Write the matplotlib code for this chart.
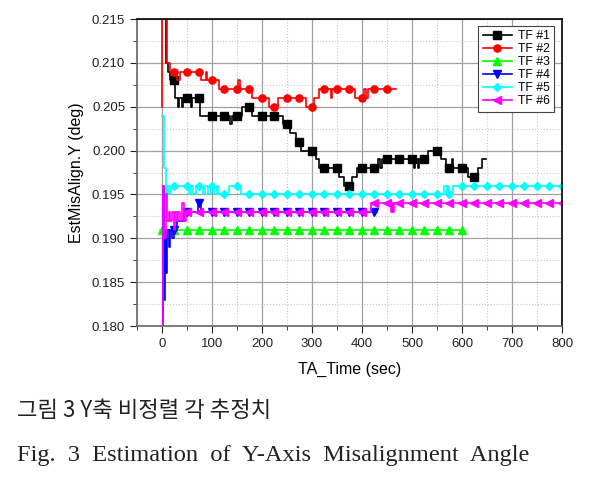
import numpy as np
import matplotlib
matplotlib.use('Agg')
from matplotlib import pyplot as plt
from matplotlib.ticker import MultipleLocator, FormatStrFormatter

plt.rcParams['font.family'] = ['Liberation Sans', 'DejaVu Sans']

# step data: times (sec) and estimated angle (deg)
t1 = [0, 9, 13, 17, 27, 33, 35, 40, 42, 50, 58, 60, 76, 136, 141, 161, 181, 243, 256, 268, 278,
      308, 314, 355, 364, 381, 391, 433, 436, 440, 505, 507, 512, 514, 532, 558, 568, 580, 582,
      612, 632, 641, 649]
v1 = [0.230, 0.210, 0.209, 0.208, 0.206, 0.205, 0.206, 0.205, 0.206, 0.206, 0.205, 0.206, 0.204,
      0.203, 0.204, 0.205, 0.204, 0.203, 0.202, 0.201, 0.200, 0.199, 0.198, 0.197, 0.196, 0.197,
      0.198, 0.199, 0.198, 0.199, 0.198, 0.199, 0.198, 0.199, 0.200, 0.199, 0.198, 0.199, 0.198,
      0.197, 0.198, 0.199, 0.199]

t2 = [0, 1, 11, 16, 30, 36, 79, 88, 91, 114, 153, 157, 181, 214, 233, 288, 305, 315, 338, 341,
      386, 405, 408, 412, 416, 468]
v2 = [0.205, 0.230, 0.210, 0.209, 0.208, 0.209, 0.208, 0.209, 0.208, 0.207, 0.208, 0.207, 0.206,
      0.205, 0.206, 0.205, 0.206, 0.207, 0.206, 0.207, 0.206, 0.207, 0.206, 0.207, 0.207, 0.207]

t3 = [-3, 600]
v3 = [0.191, 0.191]

t4 = [0, 2, 5, 7, 9, 11, 14, 17, 20, 24, 30, 45, 72, 78, 431]
v4 = [0.175, 0.196, 0.183, 0.191, 0.186, 0.191, 0.189, 0.191, 0.190, 0.191, 0.192, 0.193,
      0.194, 0.193, 0.193]

t5 = [0, 4, 8, 11, 14, 18, 21, 40, 55, 58, 62, 68, 82, 86, 92, 98, 104, 110, 112, 135, 158,
      565, 570, 572, 574, 582, 800]
v5 = [0.204, 0.198, 0.195, 0.196, 0.195, 0.196, 0.196, 0.196, 0.195, 0.196, 0.195, 0.196,
      0.195, 0.196, 0.195, 0.196, 0.195, 0.196, 0.195, 0.196, 0.195, 0.196, 0.195, 0.196,
      0.195, 0.196, 0.196]

t6 = [0, 2, 5, 8, 11, 14, 17, 20, 24, 27, 30, 33, 36, 40, 44, 48, 418, 458, 460, 463, 465, 800]
v6 = [0.175, 0.196, 0.190, 0.195, 0.192, 0.193, 0.192, 0.193, 0.191, 0.193, 0.192, 0.193,
      0.192, 0.194, 0.192, 0.193, 0.194, 0.193, 0.194, 0.193, 0.194, 0.194]

labels = ['TF #1', 'TF #2', 'TF #3', 'TF #4', 'TF #5', 'TF #6']
colors = ['black', '#ff0000', '#00ff00', '#0000ff', '#00ffff', '#ff00ff']
markers = ['s', 'o', '^', 'v', 'D', '<']
mark_start = [25, 25, 0, 25, 25, 50]


def marker_points(t, v, start, step=25):
    t = np.asarray(t, dtype=float)
    v = np.asarray(v, dtype=float)
    tm = np.arange(start, t[-1] + 0.1, step)
    idx = np.searchsorted(t, tm, side='right') - 1
    return tm, v[idx]


fig = plt.figure(figsize=(5.94, 4.84), dpi=100)
ax = fig.add_axes([0.2306, 0.3264, 0.7155, 0.6343])

series = [(t1, v1), (t2, v2), (t3, v3), (t4, v4), (t5, v5), (t6, v6)]
for (t, v), lab, c, m, s in zip(series, labels, colors, markers, mark_start):
    ax.plot(t, v, drawstyle='steps-post', color=c, lw=1.2)
    tm, vm = marker_points(t, v, s)
    ms = 4.3 if m == 'D' else 5.2
    ax.plot(tm, vm, ls='none', marker=m, color=c, ms=ms, mec=c)
    ax.plot([], [], color=c, lw=1.2, marker=m, ms=ms, label=lab)

ax.set_xlim(-50, 800)
ax.set_ylim(0.180, 0.215)
ax.xaxis.set_major_locator(MultipleLocator(100))
ax.xaxis.set_minor_locator(MultipleLocator(50))
ax.yaxis.set_major_locator(MultipleLocator(0.005))
ax.yaxis.set_minor_locator(MultipleLocator(0.0025))
ax.yaxis.set_major_formatter(FormatStrFormatter('%.3f'))

ax.grid(which='major', color='#a0a0a0', lw=0.9, ls='-')
ax.grid(which='minor', color='#c8c8c8', lw=0.8, ls=':')
ax.set_axisbelow(True)

ax.tick_params(which='both', direction='out', top=False, right=False, labelsize=9.5, colors='#222222')
ax.tick_params(which='major', length=5)
ax.tick_params(which='minor', length=3)
for sp in ax.spines.values():
    sp.set_linewidth(1.2)
ax.spines['left'].set_color('#666666')
ax.spines['bottom'].set_color('#666666')

ax.set_xlabel('TA_Time (sec)', fontsize=11.5, labelpad=9)
ax.set_ylabel('EstMisAlign.Y (deg)', fontsize=11.5, labelpad=6)

leg = ax.legend(loc='upper right', fontsize=8.8, handlelength=2.4, borderpad=0.35,
                labelspacing=0.08, handletextpad=0.5, fancybox=False, edgecolor='#444444',
                framealpha=1, borderaxespad=0, bbox_to_anchor=(0.982, 0.977))
leg.get_frame().set_linewidth(0.8)

fig.text(0.029, 0.152, '그림 3 Y축 비정렬 각 추정치', fontsize=16,
         family=['Noto Sans CJK KR', 'DejaVu Sans'], color='#222222', va='center')
fig.text(0.029, 0.058, 'Fig.  3  Estimation  of  Y-Axis  Misalignment  Angle', fontsize=17.6,
         family='Liberation Serif', color='#222222', va='center')

fig.savefig('out.png', dpi=100)
